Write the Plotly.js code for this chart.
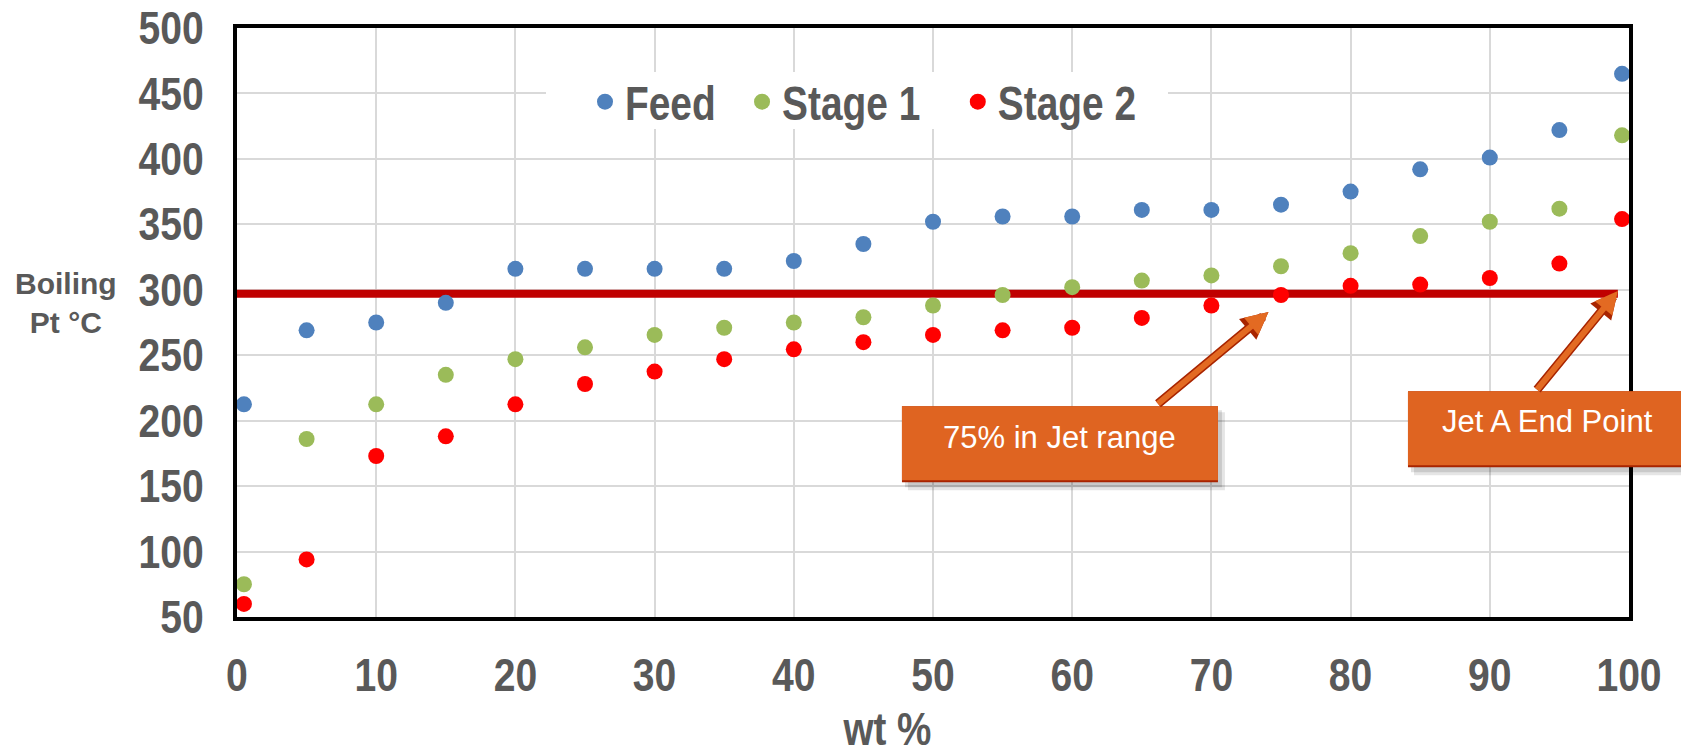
<!DOCTYPE html>
<html>
<head>
<meta charset="utf-8">
<script src="https://cdn.plot.ly/plotly-3.0.1.min.js"></script>
<style>
  html, body { margin: 0; padding: 0; background: #ffffff; }
  #chart { width: 1681px; height: 755px; }
</style>
</head>
<body>
<div id="chart"></div>
<script>
// ---- data ----
var wtPct   = [0.5, 5, 10, 15, 20, 25, 30, 35, 40, 45, 50, 55, 60, 65, 70, 75, 80, 85, 90, 95, 99.5];
var feed    = [212.5, 269, 275, 290, 316, 316, 316, 316, 322, 335, 352, 356, 356, 361, 361, 365, 375, 392, 401, 422, 465];
var stage1  = [75, 186, 212.5, 235, 247, 256, 265.5, 271, 275, 279, 288, 296, 302, 307, 311, 318, 328, 341, 352, 362, 418];
var stage2  = [60, 94, 173, 188, 212.5, 228, 237.5, 247, 254.5, 260, 265.5, 269, 271, 278.5, 288, 296, 303, 304, 309, 320, 354];
var seriesNames = ['Feed', 'Stage 1', 'Stage 2'];
var jetLimitX = [0, 99.2];
var jetLimitY = [297, 297];
var xTicks = [0, 10, 20, 30, 40, 50, 60, 70, 80, 90, 100];
var yTicks = [50, 100, 150, 200, 250, 300, 350, 400, 450, 500];
var xRange = [0, 100];
var yRange = [50, 500];

var BOLD = '"Liberation Sans", Arial, sans-serif';
var SANS = '"Liberation Sans", Arial, sans-serif';
var GREY = '#595959';

var markerSize = 16;
var traces = [
  {x: jetLimitX, y: jetLimitY, mode: 'lines', line: {color: '#C00000', width: 8}, showlegend: false, hoverinfo: 'skip'},
  {x: wtPct, y: feed, name: seriesNames[0], mode: 'markers', marker: {color: '#4F81BD', size: markerSize}},
  {x: wtPct, y: stage1, name: seriesNames[1], mode: 'markers', marker: {color: '#9BBB59', size: markerSize}},
  {x: wtPct, y: stage2, name: seriesNames[2], mode: 'markers', marker: {color: '#FF0000', size: markerSize}}
];

// callout boxes: centre (data coords), size in px, text offset in px
var callouts = [
  {text: '75% in Jet range', x: 59.12, y: 182, w: 316, h: 76, tx: 0, ty: 7},
  {text: 'Jet A End Point', x: 94.61, y: 193.4, w: 292, h: 76, tx: -6, ty: 7.5}
];
function toPaperX(v) { return (v - xRange[0]) / (xRange[1] - xRange[0]); }
function toPaperY(v) { return (v - yRange[0]) / (yRange[1] - yRange[0]); }

var shapes = [
  // white panel behind the legend (covers gridlines like the reference)
  {type: 'rect', xref: 'paper', yref: 'paper', layer: 'above',
   x0: (546 - 237) / 1392, x1: (1168 - 237) / 1392, y0: (617 - 129) / 589, y1: (617 - 72) / 589,
   fillcolor: '#ffffff', line: {width: 0}}
];
var annotations = [];
function pxRect(c, x0, x1, y0, y1, color) {
  // paper-referenced so the box may run past the plot edge (not clipped)
  return {type: 'rect', layer: 'above', xref: 'paper', yref: 'paper', xsizemode: 'pixel', ysizemode: 'pixel',
    xanchor: toPaperX(c.x), yanchor: toPaperY(c.y), x0: x0, x1: x1, y0: y0, y1: y1, fillcolor: color, line: {width: 0}};
}
callouts.forEach(function (c) {
  var hw = c.w / 2, hh = c.h / 2;
  shapes.push(pxRect(c, -hw + 6, hw + 7, -hh - 8, hh - 6, 'rgba(0,0,0,0.10)'));   // soft shadow
  shapes.push(pxRect(c, -hw + 3, hw + 4, -hh - 5, hh - 4, 'rgba(0,0,0,0.12)'));
  shapes.push(pxRect(c, -hw, hw, -hh, hh, '#A82400'));                             // dark lower edge
  shapes.push(pxRect(c, -hw, hw, -hh + 2, hh, '#DF6421'));                         // orange face
  annotations.push({xref: 'x', yref: 'y', x: c.x, y: c.y, text: c.text, showarrow: false,
    xanchor: 'center', yanchor: 'middle', xshift: c.tx, yshift: c.ty,
    font: {family: SANS, size: 31, color: '#ffffff'}});
});

function arrow(x, y, ax, ay) {
  var common = {xref: 'x', yref: 'y', x: x, y: y, ax: ax, ay: ay, text: '', showarrow: true,
    arrowhead: 2, standoff: 0};
  return [
    Object.assign({}, common, {arrowcolor: '#A82400', arrowwidth: 9, arrowsize: 0.6}),
    Object.assign({}, common, {arrowcolor: '#E36A22', arrowwidth: 6, arrowsize: 0.75})
  ];
}
annotations = annotations
  .concat(arrow(74.1, 283, -112, 93))
  .concat(arrow(99.2, 299, -82, 100))
  .concat([
    {xref: 'paper', yref: 'paper', x: (887 - 237) / 1392, y: (617 - 729) / 589, text: 'wt %', showarrow: false,
     xanchor: 'center', yanchor: 'middle', font: {family: BOLD, size: 46, weight: 700, color: GREY}},
    {xref: 'paper', yref: 'paper', x: (66 - 237) / 1392, y: (617 - 303) / 589, text: 'Boiling<br>Pt °C', showarrow: false,
     xanchor: 'center', yanchor: 'middle', align: 'center', font: {family: SANS, size: 30, weight: 700, color: GREY}}
  ]);

var layout = {
  width: 1681, height: 755,
  margin: {l: 237, r: 52, t: 28, b: 138, pad: 0},
  paper_bgcolor: '#ffffff', plot_bgcolor: '#ffffff',
  showlegend: true,
  legend: {
    orientation: 'h', x: (585 - 237) / 1392, xanchor: 'left', y: (617 - 102) / 589, yanchor: 'middle',
    bgcolor: 'rgba(0,0,0,0)', borderwidth: 0,
    font: {family: BOLD, size: 48, weight: 700, color: GREY}
  },
  xaxis: {
    range: xRange, tickmode: 'array', tickvals: xTicks, ticktext: xTicks.map(String),
    showgrid: true, gridcolor: '#D9D9D9', gridwidth: 2, zeroline: false,
    showline: true, linecolor: '#000000', linewidth: 4, mirror: true,
    ticks: '', ticklabelstandoff: 15,
    tickfont: {family: BOLD, size: 46, weight: 700, color: GREY}
  },
  yaxis: {
    range: yRange, tickmode: 'array', tickvals: yTicks, ticktext: yTicks.map(String),
    showgrid: true, gridcolor: '#D9D9D9', gridwidth: 2, zeroline: false,
    showline: true, linecolor: '#000000', linewidth: 4, mirror: true,
    ticks: '', ticklabelstandoff: 20,
    tickfont: {family: BOLD, size: 46, weight: 700, color: GREY}
  },
  shapes: shapes,
  annotations: annotations
};

// narrow (condensed) look of the reference's bold labels
function condense(el, k) {
  try {
    var len = el.getComputedTextLength();
    if (len > 0) {
      el.setAttribute('textLength', (len * k).toFixed(1));
      el.setAttribute('lengthAdjust', 'spacingAndGlyphs');
    }
  } catch (e) {}
}

Plotly.newPlot('chart', traces, layout, {displayModeBar: false, staticPlot: true}).then(function (gd) {
  gd.querySelectorAll('.xtick text, .ytick text').forEach(function (el) { condense(el, 0.85); });
  gd.querySelectorAll('.legendtext').forEach(function (el) { condense(el, 0.81); });
  gd.querySelectorAll('.annotation-text').forEach(function (el) {
    if (el.textContent === 'wt %') condense(el, 0.84);
  });
});
</script>
</body>
</html>
